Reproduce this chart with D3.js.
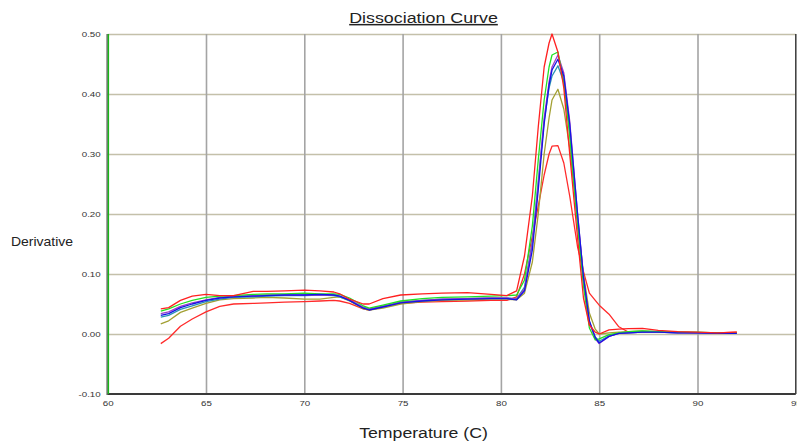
<!DOCTYPE html>
<html>
<head>
<meta charset="utf-8">
<script src="https://cdn.jsdelivr.net/npm/d3@7"></script>
<style>
  html, body { margin: 0; padding: 0; background: #fff; }
  svg { display: block; font-family: "Liberation Sans", Arial, sans-serif; }
</style>
</head>
<body>
<svg id="chart" width="797" height="446"></svg>
<script>
// temperatures (C) shared by every well
const temps = [62.7, 63.1, 63.7, 64.3, 65.0, 65.7, 66.4, 67.4, 68.1, 69.0, 70.0, 70.8, 71.5, 71.8, 72.3, 73.0, 73.3, 74.0, 74.9, 76.0, 77.0, 78.3, 79.5, 80.3, 80.8, 81.2, 81.6, 81.9, 82.2, 82.45, 82.6, 82.9, 83.2, 83.5, 83.9, 84.2, 84.5, 84.8, 85.0, 85.5, 86.0, 86.5, 87.2, 88.0, 89.0, 90.0, 91.0, 92.0];

// derivative values per well
const redLow = [-0.016, -0.007, 0.013, 0.025, 0.037, 0.046, 0.050, 0.051, 0.052, 0.053, 0.054, 0.055, 0.056, 0.055, 0.051, 0.042, 0.040, 0.046, 0.051, 0.053, 0.054, 0.055, 0.056, 0.056, 0.062, 0.100, 0.163, 0.213, 0.265, 0.300, 0.313, 0.314, 0.285, 0.230, 0.145, 0.104, 0.068, 0.056, 0.048, 0.033, 0.012, 0.003, 0.003, 0.003, 0.003, 0.002, 0.002, 0.003];
const olive = [0.017, 0.022, 0.036, 0.043, 0.051, 0.057, 0.059, 0.060, 0.061, 0.060, 0.058, 0.058, 0.061, 0.062, 0.055, 0.042, 0.040, 0.043, 0.050, 0.054, 0.056, 0.057, 0.058, 0.058, 0.057, 0.068, 0.120, 0.200, 0.300, 0.360, 0.390, 0.408, 0.375, 0.310, 0.190, 0.100, 0.035, 0.008, 0.000, 0.002, 0.003, 0.004, 0.005, 0.004, 0.003, 0.002, 0.002, 0.002];
const teal = [0.028, 0.031, 0.041, 0.047, 0.054, 0.058, 0.061, 0.062, 0.063, 0.064, 0.064, 0.065, 0.064, 0.062, 0.056, 0.044, 0.041, 0.046, 0.053, 0.056, 0.058, 0.059, 0.060, 0.060, 0.059, 0.078, 0.155, 0.255, 0.355, 0.410, 0.430, 0.447, 0.420, 0.340, 0.190, 0.090, 0.020, -0.005, -0.012, -0.003, 0.001, 0.002, 0.003, 0.003, 0.002, 0.002, 0.001, 0.001];
const purple = [0.034, 0.037, 0.046, 0.052, 0.057, 0.061, 0.063, 0.064, 0.065, 0.065, 0.065, 0.065, 0.065, 0.063, 0.057, 0.045, 0.042, 0.046, 0.053, 0.056, 0.058, 0.059, 0.060, 0.060, 0.058, 0.075, 0.150, 0.250, 0.360, 0.420, 0.445, 0.465, 0.435, 0.355, 0.200, 0.095, 0.020, -0.008, -0.016, -0.004, 0.001, 0.002, 0.003, 0.003, 0.002, 0.002, 0.001, 0.001];
const green = [0.038, 0.042, 0.050, 0.056, 0.061, 0.063, 0.064, 0.066, 0.067, 0.067, 0.068, 0.067, 0.067, 0.066, 0.060, 0.047, 0.043, 0.048, 0.055, 0.059, 0.061, 0.062, 0.063, 0.064, 0.065, 0.090, 0.180, 0.290, 0.390, 0.445, 0.465, 0.470, 0.420, 0.330, 0.180, 0.080, 0.010, -0.010, -0.008, -0.001, 0.002, 0.004, 0.005, 0.004, 0.003, 0.003, 0.002, 0.002];
const blue = [0.031, 0.034, 0.044, 0.050, 0.056, 0.060, 0.062, 0.063, 0.064, 0.065, 0.065, 0.066, 0.065, 0.063, 0.056, 0.043, 0.040, 0.045, 0.052, 0.055, 0.057, 0.058, 0.059, 0.059, 0.057, 0.072, 0.140, 0.240, 0.350, 0.415, 0.440, 0.458, 0.430, 0.350, 0.200, 0.095, 0.022, -0.006, -0.015, -0.004, 0.001, 0.002, 0.003, 0.003, 0.002, 0.002, 0.001, 0.001];
const redHigh = [0.042, 0.044, 0.056, 0.063, 0.066, 0.064, 0.064, 0.071, 0.071, 0.072, 0.073, 0.072, 0.070, 0.067, 0.058, 0.050, 0.050, 0.059, 0.065, 0.067, 0.068, 0.069, 0.066, 0.064, 0.072, 0.130, 0.230, 0.345, 0.445, 0.485, 0.500, 0.470, 0.410, 0.300, 0.160, 0.060, 0.015, 0.003, 0.000, 0.007, 0.008, 0.009, 0.0095, 0.006, 0.004, 0.003, 0.002, 0.003];

const xTicks = [60, 65, 70, 75, 80, 85, 90, 95];
const yTicks = [-0.10, 0.00, 0.10, 0.20, 0.30, 0.40, 0.50];

const wells = [
  { name: 'redLow', values: redLow, color: '#ff2a2a' },
  { name: 'olive', values: olive, color: '#a3a033' },
  { name: 'teal', values: teal, color: '#2a94b4' },
  { name: 'purple', values: purple, color: '#a03cc8' },
  { name: 'green', values: green, color: '#22e022' },
  { name: 'blue', values: blue, color: '#1414e6' },
  { name: 'redHigh', values: redHigh, color: '#ff2020' }
];

const svg = d3.select('#chart');
const plotL = 107.7, plotR = 795.8, plotT = 34, plotB = 394;

const x = d3.scaleLinear().domain([60, 95]).range([plotL, plotR]);
const y = d3.scaleLinear().domain([-0.1, 0.5]).range([plotB, plotT]);

// ── GRID ──────────────────────────────────────────────────────────────
svg.append('g')
  .attr('transform', `translate(${plotL},0)`)
  .call(d3.axisLeft(y).tickValues(yTicks.slice(1)).tickSize(-(plotR - plotL)).tickFormat(''))
  .call(g => g.select('.domain').remove())
  .call(g => g.selectAll('line').attr('stroke', '#c4c0aa').attr('stroke-width', 1.5));

svg.append('g')
  .attr('transform', `translate(0,${plotB})`)
  .call(d3.axisBottom(x).tickValues(xTicks.slice(1, -1)).tickSize(-(plotB - plotT)).tickFormat(''))
  .call(g => g.select('.domain').remove())
  .call(g => g.selectAll('line').attr('stroke', '#a4a4a4').attr('stroke-width', 1.6));

// ── CURVES ────────────────────────────────────────────────────────────
const line = d3.line()
  .x((d, i) => x(temps[i]))
  .y(d => y(d));

svg.append('g')
  .selectAll('path')
  .data(wells)
  .join('path')
  .attr('fill', 'none')
  .attr('stroke', d => d.color)
  .attr('stroke-width', 1.3)
  .attr('stroke-linejoin', 'round')
  .attr('d', d => line(d.values));

// ── FRAME ─────────────────────────────────────────────────────────────
svg.append('line').attr('x1', plotL).attr('x2', plotR).attr('y1', plotB).attr('y2', plotB)
  .attr('stroke', '#3a3a3a').attr('stroke-width', 2);
svg.append('line').attr('x1', plotR).attr('x2', plotR).attr('y1', plotT).attr('y2', plotB)
  .attr('stroke', '#3a3a3a').attr('stroke-width', 1.5);
svg.append('line').attr('x1', plotL - 0.6).attr('x2', plotL - 0.6).attr('y1', plotT).attr('y2', plotB + 1)
  .attr('stroke', '#222').attr('stroke-width', 1);
svg.append('line').attr('x1', plotL + 0.7).attr('x2', plotL + 0.7).attr('y1', plotT).attr('y2', plotB)
  .attr('stroke', '#18b818').attr('stroke-width', 1.4);

// ── AXIS LABELS ───────────────────────────────────────────────────────
const sx = 1.3;
svg.append('g')
  .attr('transform', `translate(${plotL},0)`)
  .call(d3.axisLeft(y).tickValues(yTicks).tickSize(0).tickFormat(d => d.toFixed(2)))
  .call(g => g.select('.domain').remove())
  .call(g => g.selectAll('text')
    .attr('x', -7 / sx)
    .attr('transform', `scale(${sx},1)`)
    .attr('font-size', 7.5)
    .attr('font-family', '"Liberation Sans", Arial, sans-serif')
    .attr('fill', '#333'));

svg.append('g')
  .attr('transform', `translate(0,${plotB})`)
  .call(d3.axisBottom(x).tickValues(xTicks).tickSize(0).tickFormat(d3.format('d')))
  .call(g => g.select('.domain').remove())
  .call(g => g.selectAll('text')
    .attr('y', 7)
    .attr('transform', `scale(${sx},1)`)
    .attr('font-size', 7.5)
    .attr('font-family', '"Liberation Sans", Arial, sans-serif')
    .attr('fill', '#333'));

// title, underlined
svg.append('text')
  .attr('transform', 'translate(423.5,23) scale(1.19,1)')
  .attr('text-anchor', 'middle')
  .attr('font-size', 15)
  .attr('fill', '#222')
  .attr('text-decoration', 'underline')
  .text('Dissociation Curve');

svg.append('text')
  .attr('transform', 'translate(423.5,438) scale(1.18,1)')
  .attr('text-anchor', 'middle')
  .attr('font-size', 15)
  .attr('fill', '#222')
  .text('Temperature (C)');

svg.append('text')
  .attr('transform', 'translate(42,246) scale(1.12,1)')
  .attr('text-anchor', 'middle')
  .attr('font-size', 12.5)
  .attr('fill', '#222')
  .text('Derivative');
</script>
</body>
</html>
